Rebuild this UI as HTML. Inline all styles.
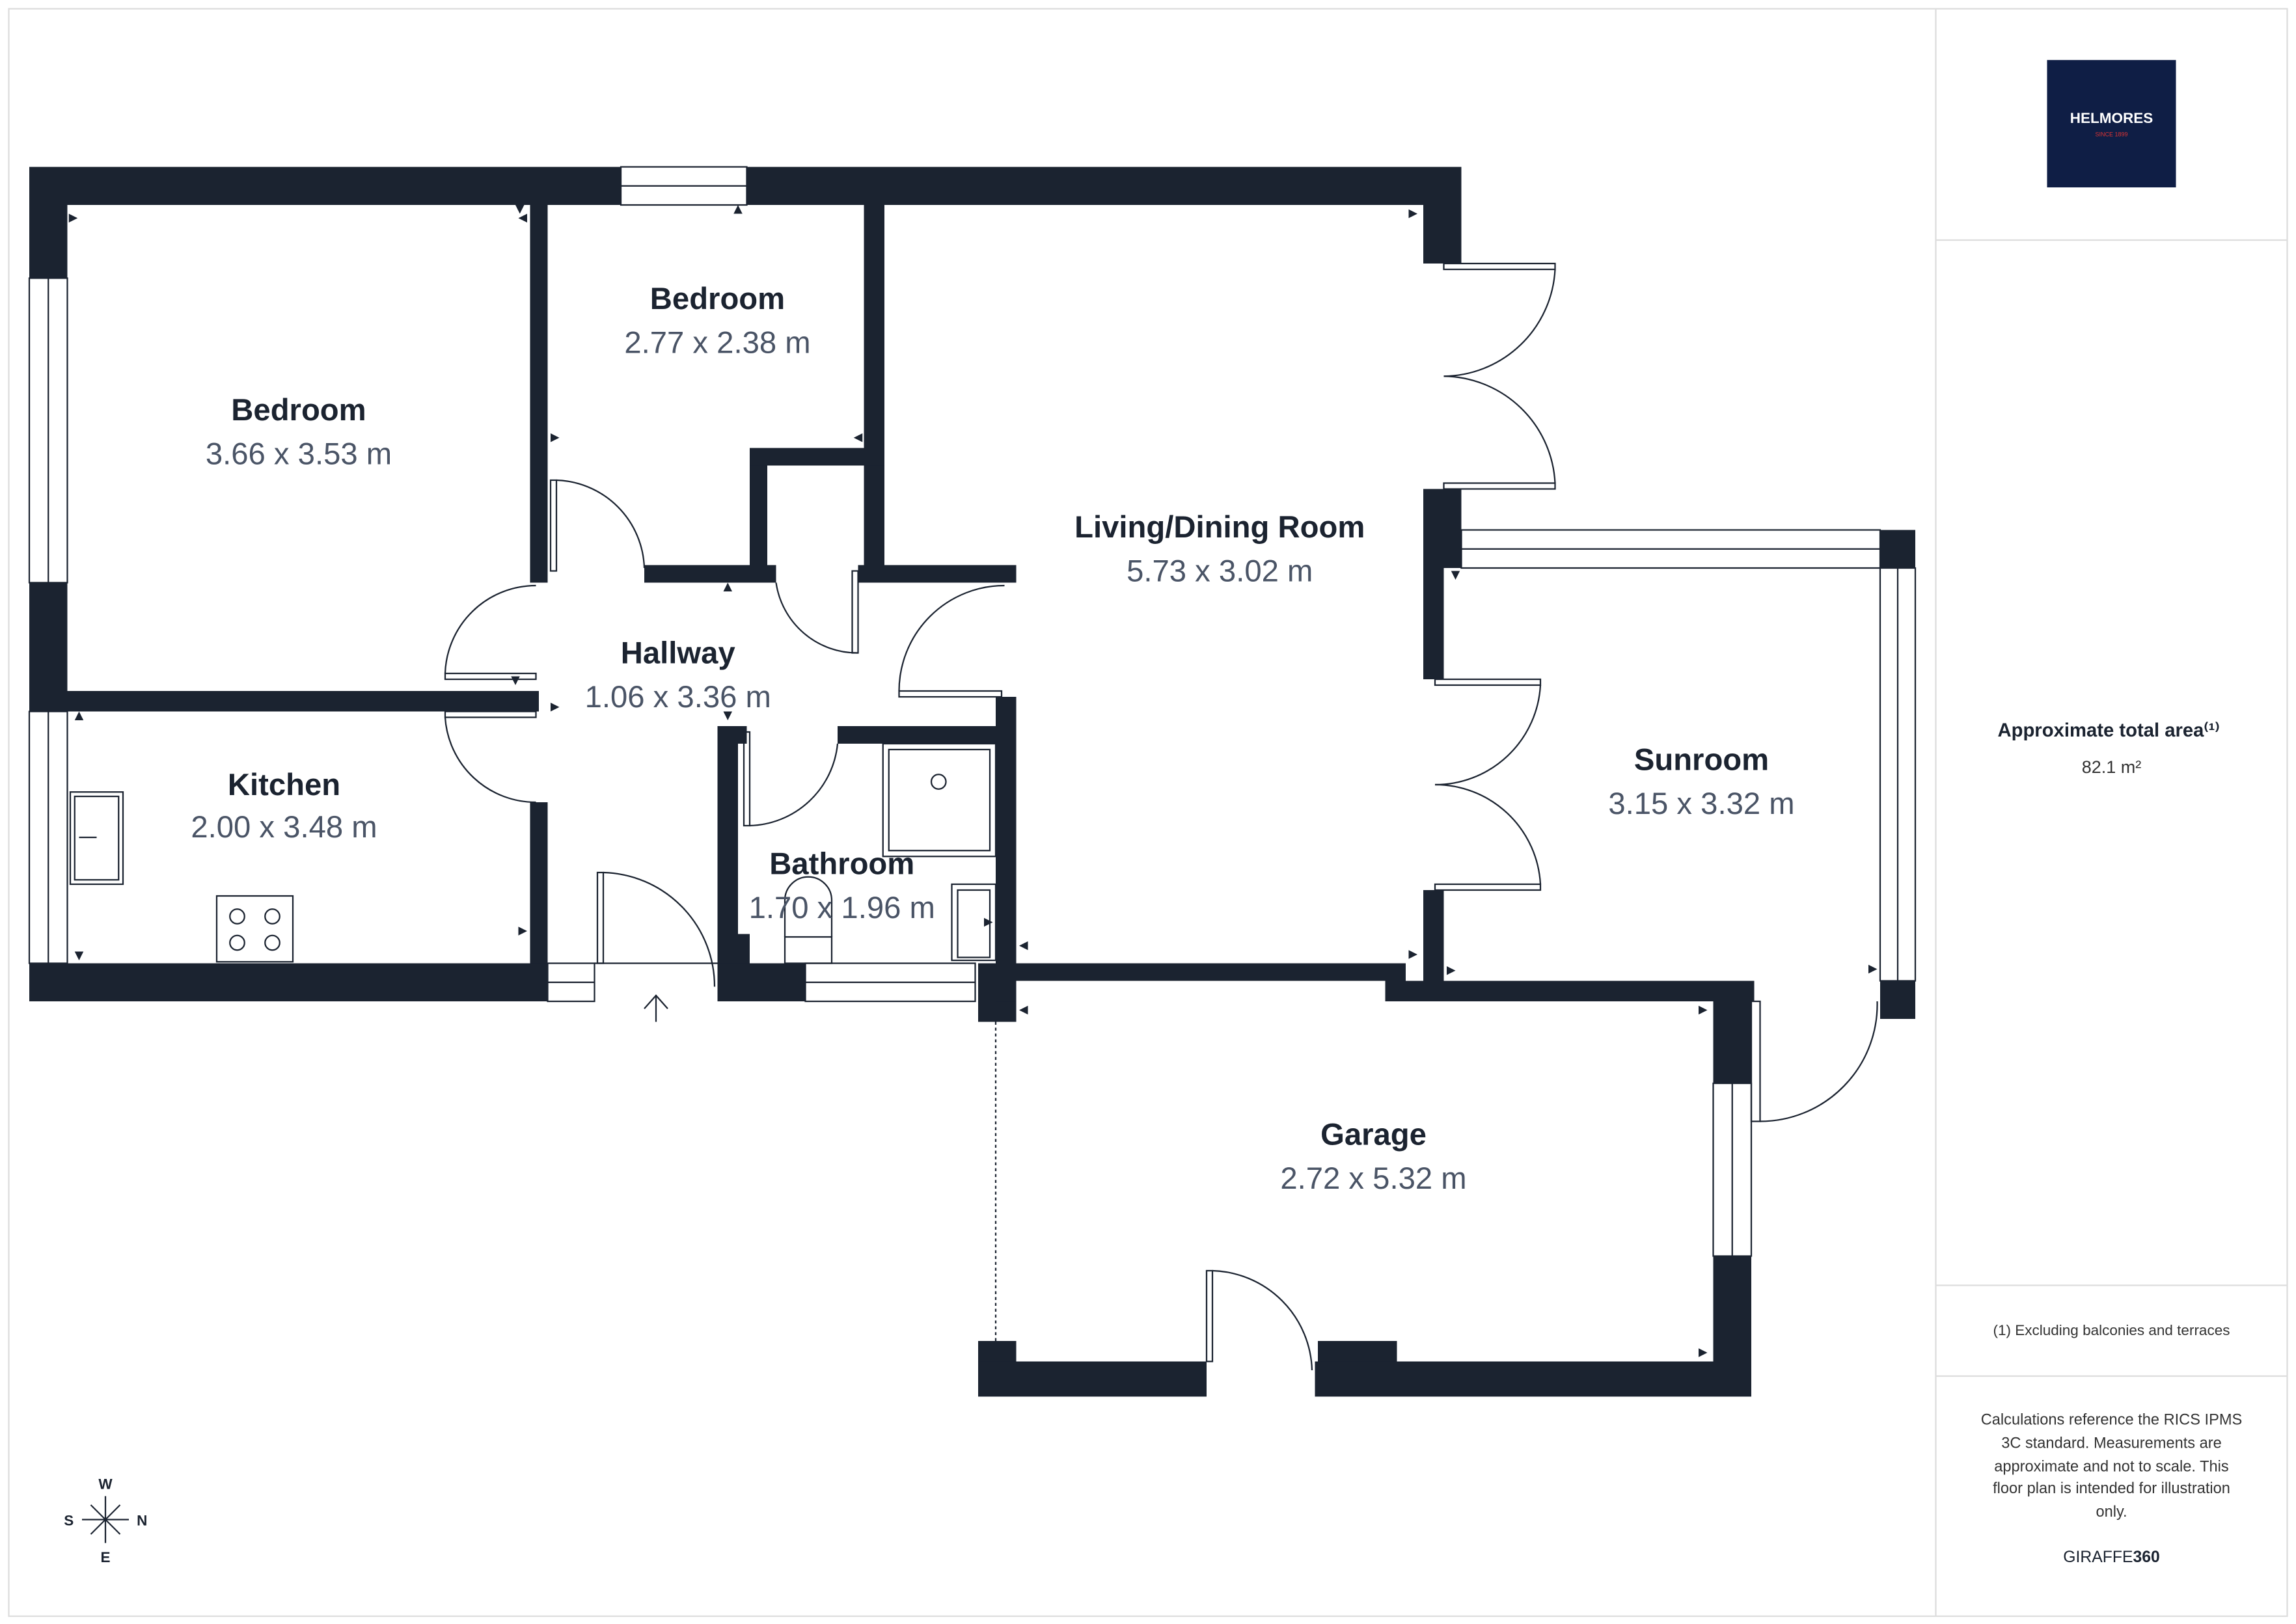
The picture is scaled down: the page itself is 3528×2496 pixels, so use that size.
<!DOCTYPE html>
<html><head><meta charset="utf-8"><style>
html,body{margin:0;padding:0;background:#fff}
svg{display:block}
text{font-family:"Liberation Sans",sans-serif}
.t{font-weight:bold;font-size:21px;fill:#1b2330;text-anchor:middle}
.d{font-size:21px;fill:#4a5466;text-anchor:middle}
</style></head><body>
<svg width="3528" height="2496" viewBox="0 0 1568 1109.33" xmlns="http://www.w3.org/2000/svg">
<rect x="0" y="0" width="1568" height="1110" fill="#fff"/>
<rect x="6" y="6" width="1556" height="1098" fill="none" stroke="#ddd" stroke-width="1"/>
<line x1="1322" y1="6" x2="1322" y2="1104" stroke="#ddd"/>
<line x1="1322" y1="164" x2="1562" y2="164" stroke="#ddd"/>
<line x1="1322" y1="878" x2="1562" y2="878" stroke="#ddd"/>
<line x1="1322" y1="940" x2="1562" y2="940" stroke="#ddd"/>
<rect x="1398" y="41" width="88" height="87" fill="#0f1e45"/>
<text x="1442" y="84" fill="#fff" font-size="10" font-weight="bold" text-anchor="middle">HELMORES</text>
<text x="1442" y="93" fill="#d33" font-size="4" text-anchor="middle">SINCE 1899</text>
<text x="1440" y="503" font-size="13" font-weight="bold" fill="#1b2330" text-anchor="middle">Approximate total area⁽¹⁾</text>
<text x="1442" y="528" font-size="12" fill="#333" text-anchor="middle">82.1 m²</text>
<text x="1442" y="912" font-size="10" fill="#333" text-anchor="middle">(1) Excluding balconies and terraces</text>
<g font-size="10.5" fill="#333" text-anchor="middle">
<text x="1442" y="973">Calculations reference the RICS IPMS</text>
<text x="1442" y="989">3C standard. Measurements are</text>
<text x="1442" y="1005">approximate and not to scale. This</text>
<text x="1442" y="1020">floor plan is intended for illustration</text>
<text x="1442" y="1036">only.</text>
</g>
<text x="1442" y="1067" font-size="11" fill="#1b2330" text-anchor="middle">GIRAFFE<tspan font-weight="bold">360</tspan></text>

<g fill="#1b2330">
<rect x="20" y="114" width="404" height="26"/><rect x="510" y="114" width="488" height="26"/>
<rect x="20" y="114" width="26" height="76"/><rect x="20" y="398" width="26" height="88"/><rect x="20" y="658" width="26" height="26"/>
<rect x="20" y="658" width="354" height="26"/>
<rect x="46" y="472" width="322" height="14"/>
<rect x="362" y="140" width="12" height="258"/><rect x="362" y="548" width="12" height="110"/>
<rect x="590" y="140" width="14" height="246"/>
<rect x="512" y="306" width="12" height="80"/><rect x="512" y="306" width="92" height="12"/>
<rect x="440" y="386" width="90" height="12"/><rect x="586" y="386" width="108" height="12"/>
<rect x="972" y="114" width="26" height="66"/>
<rect x="972" y="334" width="26" height="54"/>
<rect x="972" y="388" width="14" height="76"/>
<rect x="972" y="608" width="14" height="62"/>
<rect x="1284" y="362" width="24" height="26"/>
<rect x="1284" y="670" width="24" height="26"/>
<rect x="680" y="658" width="280" height="12"/>
<rect x="946" y="670" width="252" height="14"/>
<rect x="668" y="658" width="26" height="40"/>
<rect x="668" y="916" width="26" height="38"/><rect x="668" y="930" width="156" height="24"/>
<rect x="898" y="930" width="298" height="24"/><rect x="900" y="916" width="54" height="14"/>
<rect x="1170" y="684" width="26" height="56"/><rect x="1170" y="858" width="26" height="96"/>
<rect x="490" y="496" width="14" height="162"/><rect x="490" y="496" width="20" height="12"/><rect x="572" y="496" width="122" height="12"/>
<rect x="680" y="476" width="14" height="208"/>
<rect x="490" y="638" width="22" height="46"/><rect x="490" y="658" width="60" height="26"/>
<!-- markers -->
<path d="M47 146 l6 3 l-6 3z"/><path d="M360 146 l-6 3 l6 3z"/><path d="M352 140 l3 6 l3 -6z"/>
<path d="M504 140 l-3 6 h6z"/><path d="M376 296 l6 3 l-6 3z"/><path d="M589 296 l-6 3 l6 3z"/>
<path d="M968 146 l-6 -3 v6z"/><path d="M497 398 l-3 6 h6z"/><path d="M497 492 l-3 -6 h6z"/>
<path d="M352 468 l3 -6 h-6z"/><path d="M376 480 l6 3 l-6 3z"/><path d="M54 486 l-3 6 h6z"/>
<path d="M54 656 l-3 -6 h6z"/><path d="M360 636 l-6 -3 v6z"/><path d="M678 630 l-6 -3 v6z"/>
<path d="M696 646 l6 -3 v6z"/><path d="M968 652 l-6 -3 v6z"/><path d="M994 396 l-3 -6 h6z"/>
<path d="M988 660 l6 3 l-6 3z"/><path d="M1282 662 l-6 -3 v6z"/><path d="M1166 690 l-6 -3 v6z"/>
<path d="M696 690 l6 -3 v6z"/><path d="M1166 924 l-6 -3 v6z"/>
</g>
<g fill="none" stroke="#1b2330" stroke-width="1">
<rect x="424" y="114" width="86" height="26"/><line x1="424" y1="127" x2="510" y2="127"/>
<rect x="20" y="190" width="26" height="208"/><line x1="33" y1="190" x2="33" y2="398"/>
<rect x="20" y="486" width="26" height="172"/><line x1="33" y1="486" x2="33" y2="658"/>
<rect x="998" y="362" width="286" height="26"/><line x1="998" y1="375" x2="1284" y2="375"/>
<rect x="1284" y="388" width="24" height="282"/><line x1="1296" y1="388" x2="1296" y2="670"/>
<rect x="1170" y="740" width="26" height="118"/><line x1="1183" y1="740" x2="1183" y2="858"/>
<rect x="550" y="658" width="116" height="26"/><line x1="550" y1="671" x2="666" y2="671"/>
<line x1="680" y1="698" x2="680" y2="916" stroke-dasharray="2 2"/>
<rect x="986" y="180" width="76" height="4"/><path d="M986 257 A77 77 0 0 0 1062 184"/>
<rect x="986" y="330" width="76" height="4"/><path d="M986 257 A77 77 0 0 1 1062 330"/>
<rect x="980" y="464" width="72" height="4"/><path d="M980 536 A72 72 0 0 0 1052 468"/>
<rect x="980" y="604" width="72" height="4"/><path d="M980 536 A72 72 0 0 1 1052 604"/>
<rect x="376" y="328" width="4" height="62"/><path d="M380 328 A62 62 0 0 1 440 388"/>
<rect x="304" y="460" width="62" height="4"/><path d="M304 460 A62 62 0 0 1 366 400"/>
<rect x="304" y="486" width="62" height="4"/><path d="M304 490 A62 62 0 0 0 366 548"/>
<rect x="582" y="390" width="4" height="56"/><path d="M530 398 A56 56 0 0 0 586 446"/>
<rect x="614" y="472" width="70" height="4"/><path d="M614 472 A72 72 0 0 1 686 400"/>
<rect x="508" y="500" width="4" height="64"/><path d="M512 564 A62 62 0 0 0 572 508"/>
<rect x="408" y="596" width="4" height="62"/><path d="M412 596 A78 78 0 0 1 488 674"/>
<rect x="374" y="658" width="32" height="26"/><line x1="374" y1="671" x2="406" y2="671"/><line x1="406" y1="658" x2="490" y2="658"/>
<rect x="824" y="868" width="4" height="62"/><path d="M828 868 A70 70 0 0 1 896 936"/>
<rect x="1196" y="684" width="6" height="82"/><path d="M1202 766 A80 80 0 0 0 1282 684"/>
<rect x="48" y="541" width="36" height="63"/><rect x="51" y="544" width="30" height="57"/><line x1="54" y1="572" x2="66" y2="572"/>
<rect x="148" y="612" width="52" height="45"/><circle cx="162" cy="626" r="5"/><circle cx="186" cy="626" r="5"/><circle cx="162" cy="644" r="5"/><circle cx="186" cy="644" r="5"/>
<rect x="603" y="508" width="77" height="77"/><rect x="607" y="512" width="69" height="69"/><circle cx="641" cy="534" r="5"/>
<rect x="650" y="604" width="30" height="52"/><rect x="654" y="608" width="22" height="46"/>
<rect x="536" y="640" width="32" height="18"/><path d="M536 640 L536 615 A16 16 0 0 1 568 615 L568 640"/>
<line x1="448" y1="680" x2="448" y2="698"/><path d="M440 689 L448 680 L456 689"/>
</g>
<g class="t">
<text x="204" y="287">Bedroom</text><text x="490" y="211">Bedroom</text>
<text x="833" y="367">Living/Dining Room</text><text x="463" y="453">Hallway</text>
<text x="194" y="543">Kitchen</text><text x="575" y="597">Bathroom</text>
<text x="1162" y="526">Sunroom</text><text x="938" y="782">Garage</text>
</g>
<g class="d">
<text x="204" y="317">3.66 x 3.53 m</text><text x="490" y="241">2.77 x 2.38 m</text>
<text x="833" y="397">5.73 x 3.02 m</text><text x="463" y="483">1.06 x 3.36 m</text>
<text x="194" y="572">2.00 x 3.48 m</text><text x="575" y="627">1.70 x 1.96 m</text>
<text x="1162" y="556">3.15 x 3.32 m</text><text x="938" y="812">2.72 x 5.32 m</text>
</g>
<g stroke="#1b2330" stroke-width="1"><line x1="72" y1="1022" x2="72" y2="1054"/><line x1="56" y1="1038" x2="88" y2="1038"/><line x1="62" y1="1028" x2="82" y2="1048"/><line x1="82" y1="1028" x2="62" y2="1048"/></g>
<g font-size="10" font-weight="bold" fill="#1b2330" text-anchor="middle">
<text x="72" y="1017">W</text><text x="72" y="1067">E</text><text x="47" y="1042">S</text><text x="97" y="1042">N</text></g>
</svg>
</body></html>
